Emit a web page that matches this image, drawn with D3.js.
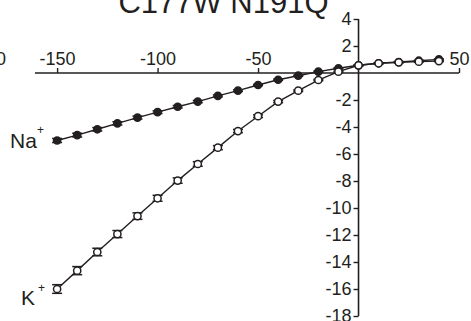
<!DOCTYPE html>
<html>
<head>
<meta charset="utf-8">
<script src="https://cdn.jsdelivr.net/npm/d3@7"></script>
<style>
  html, body { margin: 0; padding: 0; background: #fff; }
  svg { display: block; }
  text { font-family: "Liberation Sans", Arial, sans-serif; fill: #231f20; }
</style>
</head>
<body>
<svg id="chart" width="471" height="321"></svg>
<script>
// Membrane potential (mV) for each recorded step
const voltages = [-150, -140, -130, -120, -110, -100, -90, -80, -70, -60,
                  -50, -40, -30, -20, -10, 0, 10, 20, 30, 40];
// Mean current (nA) in Na+ solution and its SEM
const naCurrent = [-5.0, -4.6, -4.17, -3.73, -3.3, -2.9, -2.5, -2.12, -1.7, -1.31,
                   -0.89, -0.5, -0.2, 0.1, 0.35, 0.57, 0.72, 0.81, 0.91, 1.01];
const naError = [0.15, 0.14, 0.13, 0.12, 0.11, 0.1, 0.09, 0.08, 0.07, 0.06,
                 0.05, 0.05, 0.04, 0.04, 0.04, 0.04, 0.04, 0.04, 0.04, 0.04];
// Mean current (nA) in K+ solution and its SEM
const kCurrent = [-16.0, -14.64, -13.26, -11.93, -10.6, -9.28, -7.97, -6.74, -5.53, -4.3,
                  -3.2, -2.12, -1.31, -0.52, 0.1, 0.57, 0.72, 0.79, 0.84, 0.88];
const kError = [0.32, 0.3, 0.28, 0.26, 0.24, 0.22, 0.2, 0.17, 0.15, 0.12,
                0.1, 0.08, 0.06, 0.05, 0.04, 0.04, 0.04, 0.04, 0.04, 0.04];
// Axis ticks
const xTicks = [-150, -100, -50, 50];
const yTicks = [4, 2, -2, -4, -6, -8, -10, -12, -14, -16, -18];
const titleText = "C177W N191Q";

const svg = d3.select("#chart");
const ink = "#231f20";
const font = '"Liberation Sans", Arial, sans-serif';

const x = d3.scaleLinear().domain([-161, 50]).range([35, 459]);
const y = d3.scaleLinear().domain([-18, 4]).range([316, 19]);

// Title, partly above the top edge
svg.append("text")
  .attr("x", 223.5).attr("y", 12.5)
  .attr("text-anchor", "middle")
  .style("font-size", "31px")
  .text(titleText);

// Neighbouring axis label cut by the left edge
svg.append("text")
  .attr("x", 6).attr("y", 65)
  .attr("text-anchor", "end")
  .style("font-size", "18px")
  .text("50");

// Plain hyphen-minus labels
const fmt = d => String(d);

// X axis through the origin, ticks and labels above
const xAxis = d3.axisTop(x).tickValues(xTicks).tickSize(5).tickPadding(3).tickFormat(fmt);
const gx = svg.append("g").attr("transform", `translate(0,${y(0)})`).call(xAxis);
gx.select(".domain").attr("d", `M${x.range()[0]},0H${x.range()[1]}`)
  .attr("stroke", ink).attr("stroke-width", 1.6);
gx.selectAll(".tick line").attr("stroke", ink).attr("stroke-width", 1.4);
gx.selectAll(".tick text").style("font-size", "18px")
  .style("font-family", font).attr("fill", ink);

// Y axis through zero voltage, ticks and labels on the left
const yAxis = d3.axisLeft(y).tickValues(yTicks).tickSize(5).tickPadding(2).tickFormat(fmt);
const gy = svg.append("g").attr("transform", `translate(${x(0)},0)`).call(yAxis);
gy.select(".domain").attr("d", `M0,${y.range()[0]}V${y.range()[1]}`)
  .attr("stroke", ink).attr("stroke-width", 1.6);
gy.selectAll(".tick line").attr("stroke", ink).attr("stroke-width", 1.4);
gy.selectAll(".tick text").style("font-size", "18px")
  .style("font-family", font).attr("fill", ink);

const line = d3.line().x(d => x(d.v)).y(d => y(d.i));

function drawSeries(values, errors, filled) {
  const pts = voltages.map((v, k) => ({ v, i: values[k], e: errors[k] }));
  const g = svg.append("g");
  g.append("path").datum(pts).attr("d", line)
    .attr("fill", "none").attr("stroke", ink).attr("stroke-width", 1.4);
  const eb = g.selectAll(".err").data(pts).join("g");
  eb.append("line")
    .attr("x1", d => x(d.v)).attr("x2", d => x(d.v))
    .attr("y1", d => y(d.i - d.e)).attr("y2", d => y(d.i + d.e))
    .attr("stroke", ink).attr("stroke-width", 1.3);
  [-1, 1].forEach(s => {
    eb.append("line")
      .attr("x1", d => x(d.v) - 5).attr("x2", d => x(d.v) + 5)
      .attr("y1", d => y(d.i + s * d.e)).attr("y2", d => y(d.i + s * d.e))
      .attr("stroke", ink).attr("stroke-width", 1.5);
  });
  g.selectAll("circle").data(pts).join("circle")
    .attr("cx", d => x(d.v)).attr("cy", d => y(d.i)).attr("r", 3.6)
    .attr("fill", filled ? ink : "#fff")
    .attr("stroke", ink).attr("stroke-width", 1.5);
}

drawSeries(naCurrent, naError, true);
drawSeries(kCurrent, kError, false);

// Series labels
function ionLabel(name, xPos, yPos, plusX, plusY) {
  svg.append("text").attr("x", xPos).attr("y", yPos)
    .style("font-size", "21px").text(name);
  svg.append("text").attr("x", plusX).attr("y", plusY)
    .style("font-size", "12px").text("+");
}
ionLabel("Na", 10, 147.5, 37, 134);
ionLabel("K", 21, 305, 38, 292);
</script>
</body>
</html>
